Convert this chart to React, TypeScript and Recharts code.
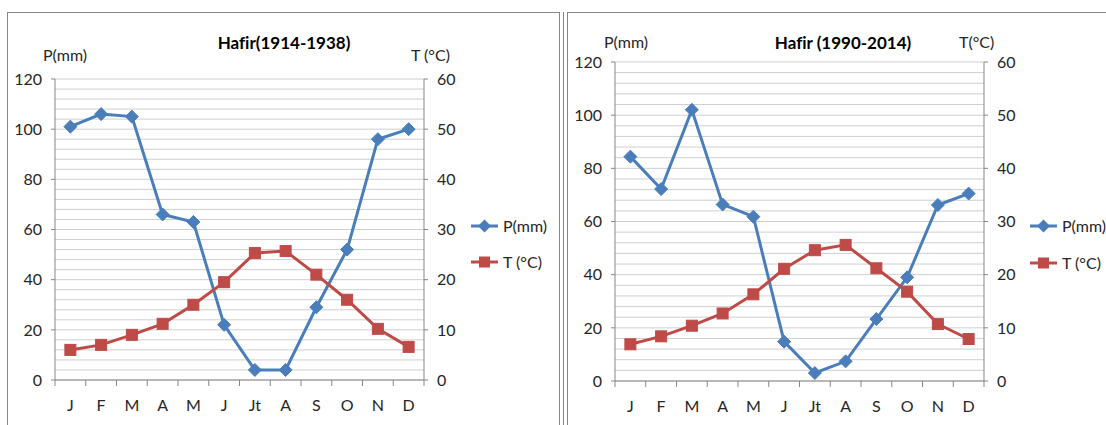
import React from 'react';
import { LineChart, Line, XAxis, YAxis, CartesianGrid } from 'recharts';

const months = ['J', 'F', 'M', 'A', 'M', 'J', 'Jt', 'A', 'S', 'O', 'N', 'D'];
const precip1 = [101, 106, 105, 66, 63, 22, 4, 4, 29, 52, 96, 100];
const temp1 = [6, 7, 9, 11.2, 15, 19.5, 25.3, 25.7, 21, 16, 10.2, 6.6];
const precip2 = [84.4, 72.2, 102, 66.4, 61.8, 14.8, 3, 7.4, 23.3, 39, 66.2, 70.5];
const temp2 = [6.9, 8.4, 10.4, 12.7, 16.3, 21.1, 24.6, 25.6, 21.2, 16.8, 10.7, 7.9];
const pTicks = [0, 20, 40, 60, 80, 100, 120];
const tTicks = [0, 10, 20, 30, 40, 50, 60];
const gridValues = [0, 4, 8, 12, 16, 20, 24, 28, 32, 36, 40, 44, 48, 52, 56, 60, 64, 68, 72, 76, 80, 84, 88, 92, 96, 100, 104, 108, 112, 116, 120];

const FONT = 'Lato, "Open Sans", sans-serif';
const BLUE = '#4A7EBB';
const RED = '#BE4B48';
const AXIS = '#878787';
const GRID = '#cfcfcf';
const TEXT = '#262626';
const PLOT_W = 369;
const BW = PLOT_W / 12;

const Diamond = (props: any) => {
  const { cx, cy } = props;
  if (cx == null || cy == null) return null;
  const r = 6.5;
  return <polygon points={`${cx},${cy - r} ${cx + r},${cy} ${cx},${cy + r} ${cx - r},${cy}`} fill={BLUE} stroke={BLUE} />;
};
const Square = (props: any) => {
  const { cx, cy } = props;
  if (cx == null || cy == null) return null;
  const h = 5.5;
  return <rect x={cx - h} y={cy - h} width={2 * h} height={2 * h} fill={RED} stroke={RED} />;
};

const XTick = (props: any) => {
  const { x, y, payload, index } = props;
  return (
    <g>
      <line x1={x - BW / 2} y1={y} x2={x - BW / 2} y2={y + 6} stroke={AXIS} />
      {index === 11 && <line x1={x + BW / 2} y1={y} x2={x + BW / 2} y2={y + 6} stroke={AXIS} />}
      <text x={x} y={y + 31} textAnchor="middle" fontFamily={FONT} fontSize={16} fill={TEXT}>{payload.value}</text>
    </g>
  );
};

function Chart({ p, t, top, bottom }: { p: number[]; t: number[]; top: number; bottom: number }) {
  const data = months.map((m, i) => ({ m, p: p[i], t: t[i] }));
  const tickStyle = { fontFamily: FONT, fontSize: 16, fill: TEXT };
  return (
    <LineChart width={560} height={425} data={data} margin={{ top, right: 96, bottom: 425 - bottom - 30, left: 0 }}>
      <CartesianGrid yAxisId="p" vertical={false} horizontalValues={gridValues} stroke={GRID} />
      <XAxis dataKey="m" padding={{ left: BW / 2, right: BW / 2 }} height={30} tickSize={0} tickMargin={0} tick={<XTick />} axisLine={{ stroke: AXIS }} tickLine={false} interval={0} />
      <YAxis yAxisId="p" orientation="left" width={55} domain={[0, 120]} ticks={pTicks} interval={0} tickSize={4} tickMargin={9} tick={tickStyle} axisLine={{ stroke: AXIS }} tickLine={{ stroke: AXIS }} />
      <YAxis yAxisId="t" orientation="right" width={40} domain={[0, 60]} ticks={tTicks} interval={0} tickSize={4} tickMargin={9} tick={{ ...tickStyle, textAnchor: 'start' }} axisLine={{ stroke: AXIS }} tickLine={{ stroke: AXIS }} />
      <Line yAxisId="p" dataKey="p" stroke={BLUE} strokeWidth={3} dot={<Diamond />} activeDot={false} isAnimationActive={false} />
      <Line yAxisId="t" dataKey="t" stroke={RED} strokeWidth={3} dot={<Square />} activeDot={false} isAnimationActive={false} />
    </LineChart>
  );
}

const Txt = ({ x, y, children, size = 16, bold = false, anchor = 'start' }: any) => (
  <div style={{ position: 'absolute', left: x, top: y - size * 0.6, fontFamily: FONT, fontSize: size, fontWeight: bold ? 700 : 400, color: bold ? '#000' : TEXT, lineHeight: `${size * 1.2}px`, whiteSpace: 'nowrap', fontVariantLigatures: 'none', transform: anchor === 'middle' ? 'translateX(-50%)' : undefined }}>
    {children}
  </div>
);

const LegendRow = ({ x, y, kind, label }: any) => (
  <div style={{ position: 'absolute', left: x, top: y - 10, height: 20 }}>
    <svg width={30} height={20} style={{ position: 'absolute', left: 0, top: 0 }}>
      <line x1={1} y1={10} x2={28} y2={10} stroke={kind === 'p' ? BLUE : RED} strokeWidth={3} />
      {kind === 'p' ? (
        <polygon points="14.5,3.5 21,10 14.5,16.5 8,10" fill={BLUE} />
      ) : (
        <rect x={9} y={4.5} width={11} height={11} fill={RED} />
      )}
    </svg>
    <div style={{ position: 'absolute', left: 33, top: 0, fontFamily: FONT, fontSize: 16, color: TEXT, lineHeight: '20px', whiteSpace: 'nowrap' }}>{label}</div>
  </div>
);

export default function App() {
  return (
    <div style={{ position: 'absolute', left: 0, top: 0, width: 1106, height: 425, overflow: 'hidden', background: '#fff' }}>
      <div style={{ position: 'absolute', left: 7, top: 12, width: 553, height: 440, border: `1.5px solid ${AXIS}`, boxSizing: 'border-box' }} />
      <div style={{ position: 'absolute', left: 562.5, top: 12, width: 1.5, height: 440, background: AXIS }} />
      <div style={{ position: 'absolute', left: 567, top: 12, width: 560, height: 440, border: `1.5px solid ${AXIS}`, boxSizing: 'border-box' }} />

      <div style={{ position: 'absolute', left: 0, top: 0 }}>
        <Chart p={precip1} t={temp1} top={79} bottom={380} />
      </div>
      <div style={{ position: 'absolute', left: 560, top: 0 }}>
        <Chart p={precip2} t={temp2} top={62} bottom={381} />
      </div>

      <Txt x={284} y={43} size={17} bold anchor="middle">Hafir(1914-1938)</Txt>
      <Txt x={43} y={55}>P(mm)</Txt>
      <Txt x={411} y={55}>T (°C)</Txt>
      <LegendRow x={470} y={226} kind="p" label="P(mm)" />
      <LegendRow x={470} y={262} kind="t" label="T (°C)" />

      <Txt x={843} y={43} size={17} bold anchor="middle">Hafir (1990-2014)</Txt>
      <Txt x={604} y={42}>P(mm)</Txt>
      <Txt x={959} y={42}>T(°C)</Txt>
      <LegendRow x={1029} y={226} kind="p" label="P(mm)" />
      <LegendRow x={1029} y={263} kind="t" label="T (°C)" />
    </div>
  );
}
